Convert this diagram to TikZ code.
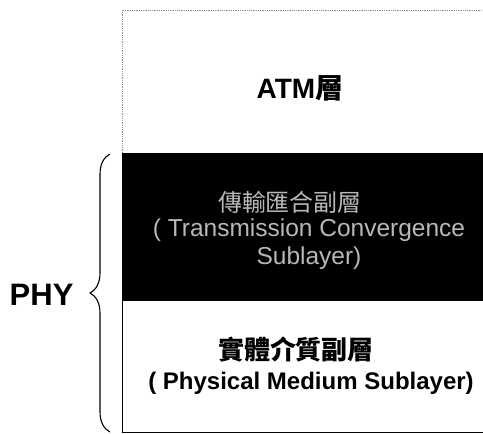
\documentclass[tikz,border=0pt]{standalone}
\usepackage{fontspec}
\setmainfont{Liberation Sans}
\newfontfamily\cjk{Noto Sans CJK TC}
\usetikzlibrary{decorations.pathreplacing}
\tikzset{
  layerbox/.style={draw=black, line width=1.3pt, inner sep=0pt, anchor=north west, minimum width=366pt},
  dimtext/.style={text=black!28, align=center},
  plaintext/.style={text=black, align=center},
}
\begin{document}
\begin{tikzpicture}[x=1pt,y=-1pt]
\useasboundingbox (0,0) rectangle (483,434);
% ATM layer box (faint dotted outline)
\coordinate (atmtl) at (122,10);
\coordinate (atmtr) at (486,10);
\coordinate (atmbl) at (122,153);
\draw[black!45, densely dotted, line width=0.8pt] (atmbl) -- (atmtl) -- (atmtr);
\node[plaintext, font=\fontsize{28}{30}\selectfont\bfseries] (atm) at (300,88) {ATM{\cjk 層}};
% Transmission convergence sublayer
\node[layerbox, fill=black, minimum height=147pt] (tc) at (122,153) {};
\node[dimtext, font=\fontsize{24}{28}\selectfont\cjk] (tczh) at (290,202) {傳輸匯合副層};
\node[dimtext, font=\fontsize{24.5}{28}\selectfont] (tcen) at (309,244) {( Transmission Convergence\\Sublayer)};
% Physical medium sublayer
\node[layerbox, fill=white, minimum height=132pt] (pm) at (122,300) {};
\node[plaintext, font=\fontsize{26}{28}\selectfont\cjk\bfseries] (pmzh) at (296,350) {實體介質副層};
\node[plaintext, font=\fontsize{24}{26}\selectfont\bfseries] (pmen) at (311,383) {( Physical Medium Sublayer)};
% PHY brace
\coordinate (bt) at (110,154);
\coordinate (bb) at (110,432);
\draw[line width=1.1pt, decorate, decoration={brace, amplitude=20pt, mirror}] (bt) -- (bb);
\node[plaintext, font=\fontsize{31}{33}\selectfont\bfseries, anchor=east] (phy) at (77,295) {PHY};
\end{tikzpicture}
\end{document}
